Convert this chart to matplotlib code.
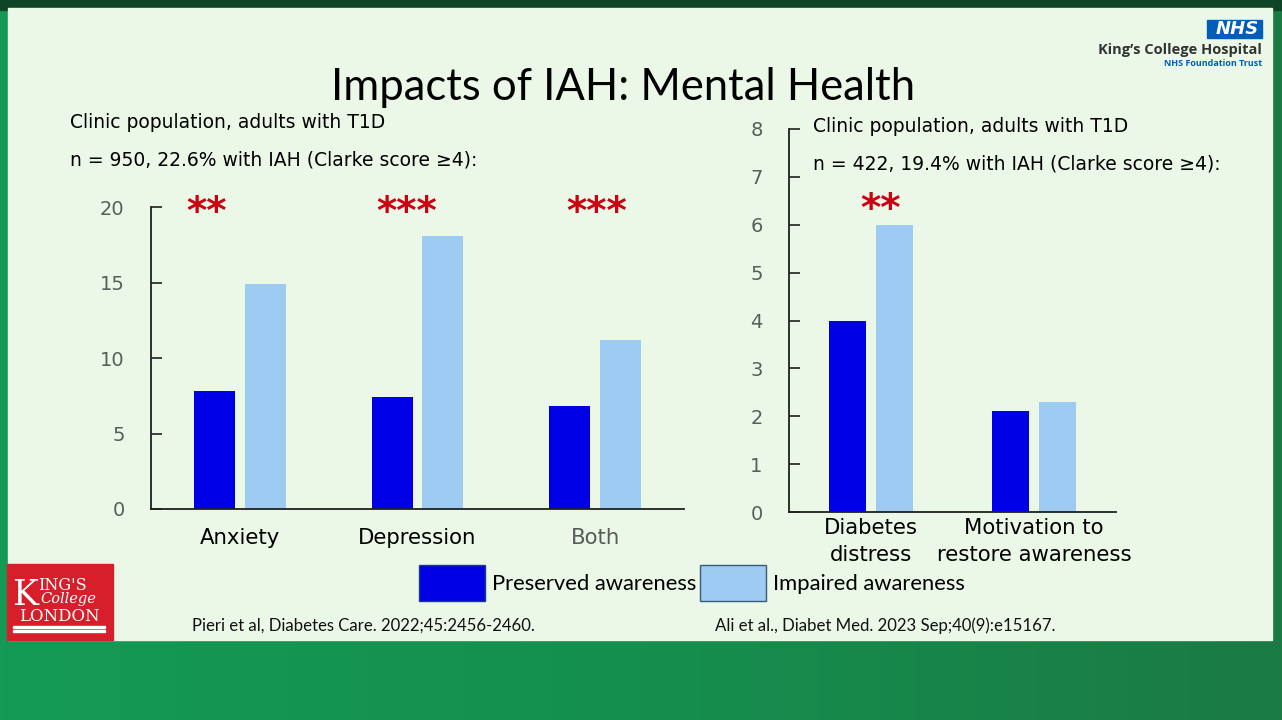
import numpy as np
import matplotlib
matplotlib.use("Agg")
import matplotlib.pyplot as plt
from matplotlib.patches import Rectangle, Patch

# left chart data (%)
left_cats = ["Anxiety", "Depression", "Both"]
left_preserved = [7.8, 7.4, 6.8]
left_impaired = [14.9, 18.1, 11.2]
left_stars = ["**", "***", "***"]
left_star_x = [-0.19, 0.94, 2.01]

# right chart data
right_cats = ["Diabetes\ndistress", "Motivation to\nrestore awareness"]
right_preserved = [4.0, 2.1]
right_impaired = [6.0, 2.3]
right_stars = ["**", ""]
right_star_x = [0.06, 1.0]

series_names = ["Preserved awareness", "Impaired awareness"]

DARK = "#0000e6"
LIGHT = "#9ecbf2"
TICK_COL = "#56605a"
PANEL = "#ebf8e8"
STAR = "#cc0011"

W, H = 1282, 720
fig = plt.figure(figsize=(W / 100, H / 100), dpi=100)
fig.patch.set_facecolor("#17924f")


def px(x, y, w, h):
    return (x / W, 1 - (y + h) / H, w / W, h / H)


def rect(x, y, w, h, **kw):
    l, b, ww, hh = px(x, y, w, h)
    fig.patches.append(Rectangle((l, b), ww, hh, transform=fig.transFigure, **kw))


# background: lower gradient, dark top band, light panel
bg = fig.add_axes([0, 0, 1, 1], zorder=-10)
grad = np.linspace(0, 1, 256)[None, :]
bg.imshow(grad, extent=[0, 1, 0, 1], aspect="auto",
          cmap=matplotlib.colors.LinearSegmentedColormap.from_list("g", ["#149a55", "#158f4e", "#1b7a44"]))
bg.axis("off")
rect(0, 0, W, 10, color="#0d4526", zorder=-5)
rect(8, 8, 1264, 632, color=PANEL, zorder=-4)

# KCL logo
rect(7, 564, 106, 76, color="#d61f2b", zorder=1)
fig.text(12 / W, 1 - 605 / H, "K", family="DejaVu Serif", color="white", fontsize=25,
         ha="left", va="baseline")
fig.text(38 / W, 1 - 590 / H, "ING'S", family="DejaVu Serif", color="white", fontsize=11.5,
         ha="left", va="baseline")
fig.text(40 / W, 1 - 603 / H, "College", family="DejaVu Serif", style="italic", color="white",
         fontsize=10.5, ha="left", va="baseline")
fig.text(59 / W, 1 - 621 / H, "LONDON", family="DejaVu Serif", color="white", fontsize=12,
         ha="center", va="baseline")
rect(13, 626, 92, 1.5, color="white", zorder=2)
rect(13, 630, 92, 1.5, color="white", zorder=2)

# NHS logo
rect(1207, 20, 55, 18, color="#005eb8", zorder=1)
fig.text(1259 / W, 1 - 29 / H, "NHS", color="white", fontsize=13, weight="bold", style="italic",
         ha="right", va="center")
fig.text(1262 / W, 1 - 50 / H, "King\u2019s College Hospital", color="#333333", fontsize=10.5,
         weight="bold", family="Open Sans", ha="right", va="center")
fig.text(1262 / W, 1 - 64 / H, "NHS Foundation Trust", color="#005eb8", fontsize=6.5,
         weight="bold", family="Open Sans", ha="right", va="center")

# title
fig.text(623 / W, 1 - 88 / H, "Impacts of IAH: Mental Health", fontsize=31.4, family="Lato",
         ha="center", va="center", color="black")

# subtitles
sub_kw = dict(fontsize=13.5, color="black", va="center", ha="left")
fig.text(70 / W, 1 - 123 / H, "Clinic population, adults with T1D", **sub_kw)
fig.text(70 / W, 1 - 160 / H, "n = 950, 22.6% with IAH (Clarke score \u22654):", **sub_kw)
fig.text(813 / W, 1 - 127 / H, "Clinic population, adults with T1D", **sub_kw)
fig.text(813 / W, 1 - 164 / H, "n = 422, 19.4% with IAH (Clarke score \u22654):", **sub_kw)


def style_axis(ax):
    ax.set_facecolor("none")
    for s in ["top", "right"]:
        ax.spines[s].set_visible(False)
    for s in ["left", "bottom"]:
        ax.spines[s].set_linewidth(1.3)
        ax.spines[s].set_color("#202020")
    ax.tick_params(axis="y", direction="in", length=8, width=1.2, color="#202020",
                   labelcolor=TICK_COL, labelsize=14, pad=19)
    ax.tick_params(axis="x", length=0, labelsize=15.3)


# left chart
axl = fig.add_axes(px(151, 207, 533, 302))
xl = np.arange(len(left_cats))
bw, off = 0.23, 0.143
axl.bar(xl - off, left_preserved, bw, color=DARK)
axl.bar(xl + off, left_impaired, bw, color=LIGHT)
axl.set_xlim(-0.5, 2.5)
axl.set_ylim(0, 20)
axl.set_yticks([0, 5, 10, 15, 20])
axl.set_xticks(xl)
axl.set_xticklabels(left_cats)
style_axis(axl)
axl.tick_params(axis="x", pad=14)
axl.get_xticklabels()[2].set_color("#5a5a5a")
for sx, st in zip(left_star_x, left_stars):
    axl.text(sx, 19.6, st, color=STAR, fontsize=28, weight="bold", ha="center", va="center",
             clip_on=False)

# right chart
axr = fig.add_axes(px(789, 129, 327, 383))
xr = np.arange(len(right_cats))
bw2, off2 = 0.225, 0.143
axr.bar(xr - off2, right_preserved, bw2, color=DARK)
axr.bar(xr + off2, right_impaired, bw2, color=LIGHT)
axr.set_xlim(-0.5, 1.5)
axr.set_ylim(0, 8)
axr.set_yticks(range(0, 9))
axr.set_xticks(xr)
axr.set_xticklabels(right_cats, linespacing=1.45)
style_axis(axr)
axr.tick_params(axis="x", pad=4)
for sx, st in zip(right_star_x, right_stars):
    if st:
        axr.text(sx, 6.3, st, color=STAR, fontsize=28, weight="bold", ha="center",
                 va="center", clip_on=False)

# legend
h = [Patch(facecolor=DARK, edgecolor="#1a3a8a", linewidth=1),
     Patch(facecolor=LIGHT, edgecolor="#3a5a7a", linewidth=1)]
leg = fig.legend(h, series_names, loc="center", bbox_to_anchor=(692 / W, 1 - 583 / H), ncol=2,
                 frameon=False, prop={"family": "Lato", "size": 15.8}, handlelength=3.0,
                 handleheight=2.1, handletextpad=0.35, columnspacing=0.15)

# citations
cite_kw = dict(fontsize=12.1, family="Lato", color="#111111", va="center", ha="left")
fig.text(192 / W, 1 - 626 / H, "Pieri et al, Diabetes Care. 2022;45:2456-2460.", **cite_kw)
fig.text(715 / W, 1 - 626 / H, "Ali et al., Diabet Med. 2023 Sep;40(9):e15167.", **cite_kw)

fig.savefig("out.png", dpi=100, facecolor=fig.get_facecolor())
